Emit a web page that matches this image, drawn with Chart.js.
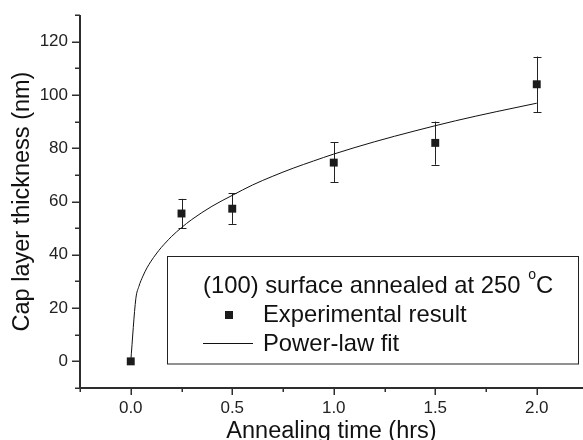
<!DOCTYPE html>
<html><head><meta charset="utf-8">
<script src="https://cdn.jsdelivr.net/npm/chart.js@4/dist/chart.umd.min.js"></script>
<style>html,body{margin:0;padding:0;background:#fff;}#wrap{width:583px;height:440px;}</style>
</head><body><div id="wrap"><canvas id="c" width="583" height="440"></canvas></div>
<script>
// Experimental data
const timeHrs = [0, 0.25, 0.5, 1.0, 1.5, 2.0];
const thickness = [0, 55.5, 57.3, 74.6, 82.0, 104.0];
const errLow = [0, 49.9, 51.6, 67.3, 73.8, 93.5];
const errHigh = [0, 61.0, 63.1, 82.3, 90.0, 114.4];
// Power-law fit curve
const fitTime = [0, 0.025, 0.04, 0.06, 0.08, 0.1, 0.125, 0.15, 0.175, 0.2, 0.25, 0.3, 0.4, 0.5, 0.6, 0.7, 0.8, 0.9, 1.0, 1.2, 1.4, 1.6, 1.8, 2.0];
const fitThickness = [0, 23.5, 28.1, 32.0, 35.1, 37.6, 40.3, 42.7, 44.8, 46.8, 50.2, 53.2, 58.2, 62.3, 66.2, 69.5, 72.5, 75.2, 77.8, 82.4, 86.5, 90.3, 93.7, 96.9];
// Ticks
const xTickValues = [0, 0.5, 1.0, 1.5, 2.0];
const xMinorTicks = [-0.25, 0, 0.25, 0.5, 0.75, 1.0, 1.25, 1.5, 1.75, 2.0];
const yTickValues = [0, 20, 40, 60, 80, 100, 120];
const yMinorTicks = [-10, 0, 10, 20, 30, 40, 50, 60, 70, 80, 90, 100, 110, 120, 130];
// Text
const xTitle = 'Annealing time (hrs)';
const yTitle = 'Cap layer thickness (nm)';
const legendTitleMain = '(100) surface annealed at 250 ';
const legendTitleSup = 'o';
const legendTitleEnd = 'C';
const seriesLabels = ['Experimental result', 'Power-law fit'];

const FONT = "'Liberation Sans', Arial, sans-serif";
const AXIS_COLOR = '#2e2e2e';
const MARK_COLOR = '#1c1c1c';

const axesPlugin = {
  id: 'axesPlugin',
  beforeDatasetsDraw(chart) {
    const {ctx, chartArea: a, scales: {x, y}} = chart;
    ctx.save();
    ctx.strokeStyle = AXIS_COLOR;
    ctx.lineWidth = 2;
    ctx.beginPath();
    ctx.moveTo(a.left, a.top); ctx.lineTo(a.left, a.bottom + 1);
    ctx.moveTo(a.left, a.bottom); ctx.lineTo(a.right, a.bottom);
    ctx.stroke();
    ctx.lineWidth = 1.5;
    ctx.beginPath();
    yMinorTicks.forEach(v => {
      const py = Math.round(y.getPixelForValue(v)) + 0.25;
      const len = yTickValues.includes(v) ? 8 : 5;
      ctx.moveTo(a.left, py); ctx.lineTo(a.left - len, py);
    });
    xMinorTicks.forEach(v => {
      const px = Math.round(x.getPixelForValue(v)) + 0.25;
      const len = xTickValues.includes(v) ? 7 : 4;
      ctx.moveTo(px, a.bottom); ctx.lineTo(px, a.bottom + len);
    });
    ctx.stroke();
    // error bars
    ctx.strokeStyle = '#222';
    ctx.lineWidth = 1;
    ctx.beginPath();
    timeHrs.forEach((t, i) => {
      if (errHigh[i] === errLow[i]) return;
      const px = Math.round(x.getPixelForValue(t)) + 0.5;
      const pt = y.getPixelForValue(errHigh[i]);
      const pb = y.getPixelForValue(errLow[i]);
      ctx.moveTo(px, pt); ctx.lineTo(px, pb);
      ctx.moveTo(px - 4, Math.round(pt) + 0.5); ctx.lineTo(px + 4, Math.round(pt) + 0.5);
      ctx.moveTo(px - 4, Math.round(pb) + 0.5); ctx.lineTo(px + 4, Math.round(pb) + 0.5);
    });
    ctx.stroke();
    ctx.restore();
  }
};

const legendPlugin = {
  id: 'legendBox',
  afterDraw(chart) {
    const {ctx} = chart;
    ctx.save();
    ctx.fillStyle = '#fff';
    ctx.fillRect(167.5, 256.5, 411, 107.5);
    ctx.strokeStyle = '#222';
    ctx.lineWidth = 1;
    ctx.strokeRect(167.5, 256.5, 411, 107.5);
    ctx.fillStyle = '#111';
    ctx.textBaseline = 'alphabetic';
    ctx.textAlign = 'left';
    ctx.font = '23.8px ' + FONT;
    const x0 = 203;
    ctx.fillText(legendTitleMain, x0, 293);
    let w = ctx.measureText(legendTitleMain).width;
    ctx.font = '14px ' + FONT;
    ctx.fillText(legendTitleSup, x0 + w + 1, 278.5);
    const ws = ctx.measureText(legendTitleSup).width;
    ctx.font = '23.8px ' + FONT;
    ctx.fillText(legendTitleEnd, x0 + w + 1 + ws, 293);
    // marker
    ctx.fillStyle = MARK_COLOR;
    ctx.fillRect(225, 311, 8, 8);
    ctx.fillStyle = '#111';
    ctx.fillText(chart.data.datasets[0].label, 263, 321.5);
    // line
    ctx.strokeStyle = '#111';
    ctx.beginPath(); ctx.moveTo(203, 343.5); ctx.lineTo(253, 343.5); ctx.stroke();
    ctx.fillText(chart.data.datasets[1].label, 263, 350.5);
    ctx.restore();
  }
};

new Chart(document.getElementById('c'), {
  type: 'scatter',
  data: {
    datasets: [
      {
        label: seriesLabels[0],
        data: timeHrs.map((t, i) => ({x: t, y: thickness[i]})),
        pointStyle: 'rect',
        pointRadius: 5.6,
        backgroundColor: MARK_COLOR,
        borderWidth: 0,
        order: 0
      },
      {
        label: seriesLabels[1],
        data: fitTime.map((t, i) => ({x: t, y: fitThickness[i]})),
        showLine: true,
        pointRadius: 0,
        borderColor: '#111',
        borderWidth: 1,
        cubicInterpolationMode: 'monotone',
        order: 1
      }
    ]
  },
  options: {
    responsive: false,
    animation: false,
    devicePixelRatio: 1,
    layout: {autoPadding: false, padding: {top: 15, right: 0, left: 0, bottom: 0}},
    plugins: {legend: {display: false}, tooltip: {enabled: false}},
    scales: {
      x: {
        type: 'linear', min: -0.25, max: 2.2278,
        afterBuildTicks: s => { s.ticks = xTickValues.map(v => ({value: v})); },
        afterFit: s => { s.height = 52; s.paddingLeft = 0; s.paddingRight = 0; s.paddingTop = 0; s.paddingBottom = 0; },
        grid: {display: false, drawTicks: false},
        border: {display: false},
        ticks: {padding: 10, color: '#222', font: {family: FONT, size: 17}, maxRotation: 0, autoSkip: false,
          callback: v => Number(v).toFixed(1)},
        title: {display: true, text: xTitle, color: '#111', font: {family: FONT, size: 23.5, lineHeight: 0.7}, padding: 0}
      },
      y: {
        type: 'linear', min: -10, max: 130,
        afterBuildTicks: s => { s.ticks = yTickValues.map(v => ({value: v})); },
        afterFit: s => { s.width = 80; s.paddingTop = 0; s.paddingBottom = 0; s.paddingLeft = 0; s.paddingRight = 0; },
        grid: {display: false, drawTicks: false},
        border: {display: false},
        ticks: {padding: 12, color: '#222', font: {family: FONT, size: 17}, autoSkip: false,
          callback: v => String(v)},
        title: {display: true, text: yTitle, color: '#111', font: {family: FONT, size: 23.5, lineHeight: 1.2}, padding: {top: 8, bottom: 0}}
      }
    }
  },
  plugins: [axesPlugin, legendPlugin]
});
</script>
</body></html>
